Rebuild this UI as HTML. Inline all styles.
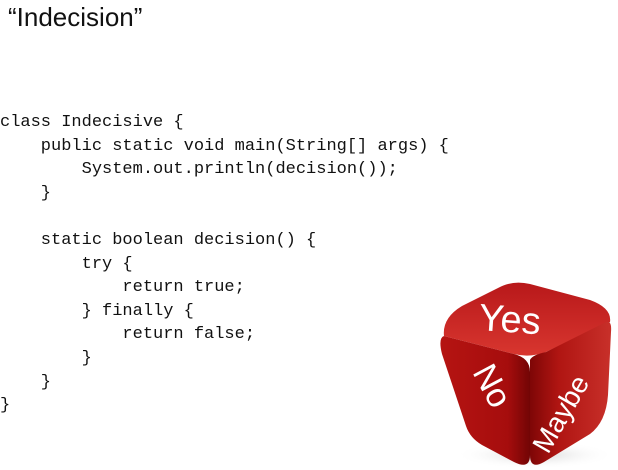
<!DOCTYPE html>
<html><head><style>
html,body{margin:0;padding:0;background:#fff;width:618px;height:470px;overflow:hidden;position:relative}
.t{position:absolute;left:8px;top:2px;font:26px "Liberation Sans",sans-serif;color:#111}
pre{position:absolute;left:0;top:111px;margin:0;font:17px/23.6px "Liberation Mono",monospace;color:#111}
svg{position:absolute;left:0;top:0}
</style></head><body>
<div class="t">“Indecision”</div>
<pre>class Indecisive {
    public static void main(String[] args) {
        System.out.println(decision());
    }

    static boolean decision() {
        try {
            return true;
        } finally {
            return false;
        }
    }
}</pre>
<svg width="618" height="470">
<defs>
<linearGradient id="gt" x1="0" y1="0" x2="0" y2="1"><stop offset="0" stop-color="#b8181a"/><stop offset="1" stop-color="#d8362f"/></linearGradient>
<linearGradient id="gl" x1="0" y1="0" x2="1" y2="0"><stop offset="0" stop-color="#b51412"/><stop offset="0.75" stop-color="#a60d0d"/><stop offset="1" stop-color="#720505"/></linearGradient>
<linearGradient id="gr" x1="0" y1="0" x2="1" y2="0"><stop offset="0" stop-color="#7e0606"/><stop offset="0.35" stop-color="#b01512"/><stop offset="1" stop-color="#c8302a"/></linearGradient>
<radialGradient id="sh"><stop offset="0" stop-color="#bbb" stop-opacity=".6"/><stop offset="1" stop-color="#fff" stop-opacity="0"/></radialGradient>
</defs>
<ellipse cx="535" cy="455" rx="80" ry="14" fill="url(#sh)"/>
<path d="M444 336 Q442 318 462 306 L498 288 Q512 280 530 284 L590 300 Q612 308 610 322 L546 352 Q530 358 514 354 Z" fill="url(#gt)"/>
<path d="M444 336 L514 354 Q530 358 530 372 L530 455 Q530 470 514 462 L482 445 Q470 438 466 426 L442 354 Q438 338 444 336 Z" fill="url(#gl)"/>
<path d="M530 360 Q532 355 546 352 L606 322 Q612 320 611 332 L608 395 Q606 422 590 434 L544 462 Q530 470 530 455 Z" fill="url(#gr)"/>
<g fill="#fff" font-family="Liberation Sans,sans-serif">
<text x="0" y="0" font-size="38" transform="translate(478 330) rotate(4)">Yes</text>
<text x="0" y="0" font-size="34" transform="translate(472 372) rotate(62)">No</text>
<text x="0" y="0" font-size="28" transform="translate(548 455) rotate(-60)">Maybe</text>
</g>
</svg>
</body></html>
